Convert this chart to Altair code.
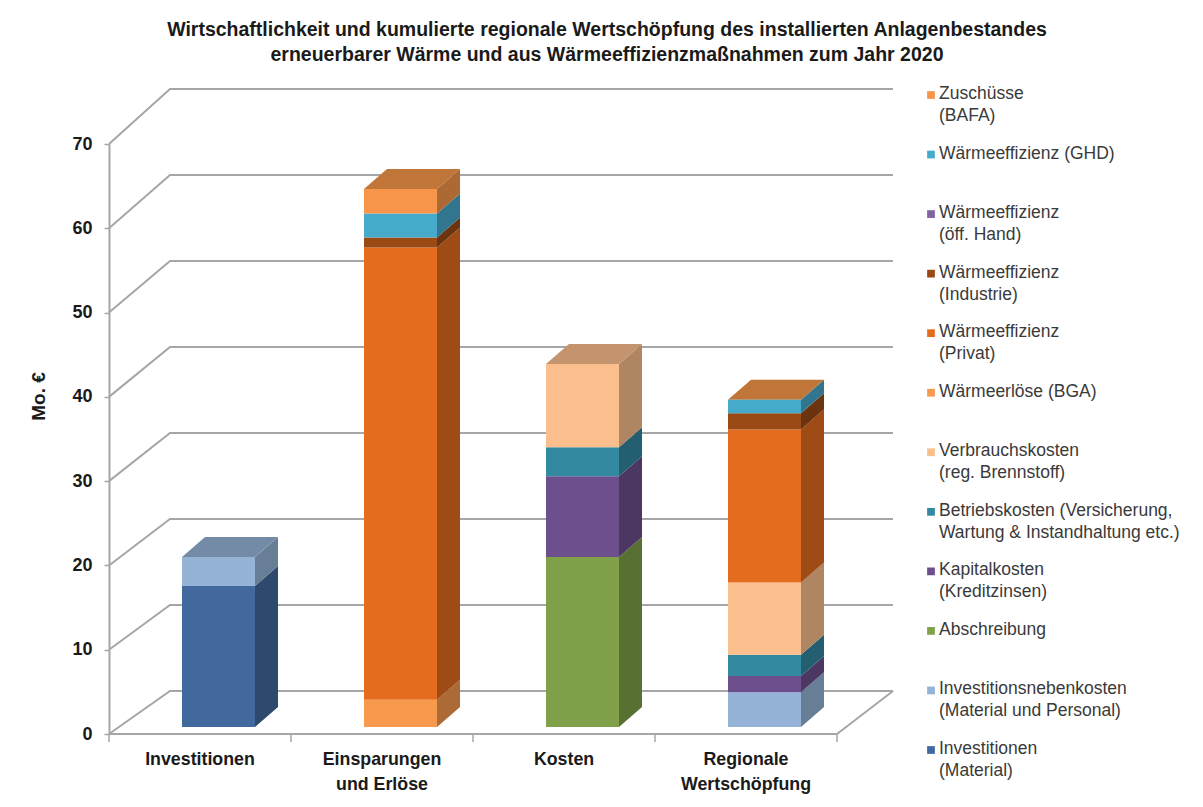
import altair as alt
import pandas as pd

# ---------------------------------------------------------------- data
categories = ["Investitionen", "Einsparungen\nund Erlöse", "Kosten", "Regionale\nWertschöpfung"]

# Mio. EUR per column; None = series not present in that column
investitionen_material = [16.6, None, None, None]
investitionsnebenkosten = [3.4, None, None, 4.1]
abschreibung = [None, None, 20.0, None]
kapitalkosten = [None, None, 9.5, 1.9]
betriebskosten = [None, None, 3.4, 2.5]
verbrauchskosten = [None, None, 9.8, 8.5]
waermeerloese_bga = [None, 3.2, None, None]
waermeeffizienz_privat = [None, 53.2, None, 18.0]
waermeeffizienz_industrie = [None, 1.2, None, 1.9]
waermeeffizienz_oeff_hand = [None, None, None, None]
waermeeffizienz_ghd = [None, 2.8, None, 1.6]
zuschuesse_bafa = [None, 2.9, None, 0.0]

# stacking order, bottom to top
series_names = [
    "Investitionen\n(Material)",
    "Investitionsnebenkosten\n(Material und Personal)",
    "Abschreibung",
    "Kapitalkosten\n(Kreditzinsen)",
    "Betriebskosten (Versicherung,\nWartung & Instandhaltung etc.)",
    "Verbrauchskosten\n(reg. Brennstoff)",
    "Wärmeerlöse (BGA)",
    "Wärmeeffizienz\n(Privat)",
    "Wärmeeffizienz\n(Industrie)",
    "Wärmeeffizienz\n(öff. Hand)",
    "Wärmeeffizienz (GHD)",
    "Zuschüsse\n(BAFA)",
]
series_values = [
    investitionen_material, investitionsnebenkosten, abschreibung, kapitalkosten,
    betriebskosten, verbrauchskosten, waermeerloese_bga, waermeeffizienz_privat,
    waermeeffizienz_industrie, waermeeffizienz_oeff_hand, waermeeffizienz_ghd,
    zuschuesse_bafa,
]
series_colors = [
    "#41699E", "#95B3D7", "#80A04A", "#6D4F8E", "#3389A0", "#FBBF8D",
    "#F79A4E", "#E46C1E", "#9A4A14", "#8064A2", "#46AACB", "#F7964A",
]

y_ticks = [0, 10, 20, 30, 40, 50, 60, 70]

# ---------------------------------------------------------------- geometry (style)
WIDTH, HEIGHT = 790, 590
PX_X = 182.0              # pixels per category slot
PX_Y = HEIGHT / 70.0      # pixels per Mio. EUR on the front axis
X_MAX = WIDTH / PX_X
BAR_LEFT, BAR_W = 73 / PX_X, 73 / PX_X
DEPTH_X, DEPTH_Y = 23 / PX_X, 20 / PX_Y
BASE = 7 / PX_Y           # columns stand a little behind the front edge
BAR_K = 8.5 / PX_Y        # perspective: columns sit deeper than the front axis
WALL_X, WALL_RIGHT = 61 / PX_X, 784 / PX_X
BACK_OFF, BACK_K = 43 / PX_Y, 8.6 / PX_Y   # back wall position / perspective


def shade(hex_color, f):
    h = hex_color.lstrip("#")
    r, g, b = (int(h[i:i + 2], 16) for i in (0, 2, 4))
    return "#%02X%02X%02X" % (int(r * f), int(g * f), int(b * f))


GRID = "#A6A6A6"
FONT = "Liberation Sans"

# ---------------------------------------------------------------- build faces
fronts, sides, tops = [], [], []
for k in range(len(categories)):
    x0 = k + BAR_LEFT
    x1 = x0 + BAR_W
    cum = 0.0
    top_series = None
    for s, vals in enumerate(series_values):
        v = vals[k]
        if v is None:
            continue
        y0, y1 = cum * BAR_K + BASE, (cum + v) * BAR_K + BASE
        cum += v
        top_series = s
        c = series_colors[s]
        fronts.append({"x": x0, "x2": x1, "y": y0, "y2": y1, "fill": c})
        face = f"s{k}_{s}"
        sides.append({"face": face, "x": x1, "y": y0, "y2": y1, "fill": shade(c, 0.70)})
        sides.append({"face": face, "x": x1 + DEPTH_X, "y": y0 + DEPTH_Y, "y2": y1 + DEPTH_Y,
                      "fill": shade(c, 0.70)})
    # lid of the column, coloured by the uppermost series
    t = cum * BAR_K + BASE
    c = shade(series_colors[top_series], 0.78)
    face = f"t{k}"
    for xx, lo, hi in [(x0, t, t), (x0 + DEPTH_X, t, t + DEPTH_Y),
                       (x1, t, t + DEPTH_Y), (x1 + DEPTH_X, t + DEPTH_Y, t + DEPTH_Y)]:
        tops.append({"face": face, "x": xx, "y": lo, "y2": hi, "fill": c})

fronts = pd.DataFrame(fronts)
sides = pd.DataFrame(sides)
tops = pd.DataFrame(tops)

# back wall gridlines and floor outline
grid_rows = []
for v in y_ticks:
    yb = BACK_OFF + v * BACK_K
    for xx, yy in [(0, v), (WALL_X, yb), (WALL_RIGHT, yb)]:
        grid_rows.append({"g": f"g{v}", "x": xx, "y": yy})
n = len(categories)
grid_rows.append({"g": "floor", "x": n, "y": 0})
grid_rows.append({"g": "floor", "x": WALL_RIGHT, "y": BACK_OFF})
grid = pd.DataFrame(grid_rows)

axis_line = pd.DataFrame({"x": [0], "x2": [n], "y": [0]})
tick_df = pd.DataFrame({"x": list(range(n + 1)), "y": [0] * (n + 1)})
cat_df = pd.DataFrame({"x": [k + 0.5 for k in range(n)], "label": categories})

legend_df = pd.DataFrame({
    "idx": list(range(len(series_names))),
    "name": series_names[::-1],
    "fill": series_colors[::-1],
})

# ---------------------------------------------------------------- chart
xs = alt.Scale(domain=[0, X_MAX], nice=False, zero=False)
ys = alt.Scale(domain=[0, 70], nice=False, zero=False)
y_axis = alt.Axis(
    values=y_ticks, grid=False,
    labelFont=FONT, labelFontSize=18, labelFontWeight="bold", labelColor="#1a1a1a",
    labelPadding=12, tickSize=5, tickColor=GRID, tickWidth=1.5,
    domainColor=GRID, domainWidth=2,
    title="Mo. €", titleFont=FONT, titleFontSize=19, titleFontWeight="bold",
    titleColor="#1a1a1a", titleAngle=270, titleX=-71, titleY=252,
    titleAlign="center", titleBaseline="middle",
)
X = alt.X("x:Q", scale=xs, axis=None)
Y = alt.Y("y:Q", scale=ys, axis=y_axis, stack=None)

grid_layer = alt.Chart(grid).mark_line(color=GRID, strokeWidth=2).encode(
    x=X, y=Y, detail="g:N")

side_layer = alt.Chart(sides).mark_area(orient="vertical").encode(
    x=X, y=Y, y2="y2:Q", color=alt.Color("fill:N", scale=None), detail="face:N")

top_layer = alt.Chart(tops).mark_area(orient="vertical").encode(
    x=X, y=Y, y2="y2:Q", color=alt.Color("fill:N", scale=None), detail="face:N")

front_layer = alt.Chart(fronts).mark_rect().encode(
    x=X, x2="x2:Q", y=Y, y2="y2:Q", color=alt.Color("fill:N", scale=None))

axis_layer = alt.Chart(axis_line).mark_rule(color=GRID, strokeWidth=2).encode(
    x=X, x2="x2:Q", y=Y)

tick_layer = alt.Chart(tick_df).mark_rule(color=GRID, strokeWidth=1.5).encode(
    x=X, y=Y, y2=alt.value(HEIGHT + 8))

label_layer = alt.Chart(cat_df).mark_text(
    font=FONT, fontSize=17.8, fontWeight="bold", color="#1a1a1a",
    baseline="top", lineBreak="\n", lineHeight=25,
).encode(x=X, y=alt.value(HEIGHT + 17), text="label:N")

main = alt.layer(grid_layer, side_layer, top_layer, front_layer,
                 axis_layer, tick_layer, label_layer)

ly = alt.Y("idx:Q", scale=alt.Scale(domain=[0, len(series_names) - 1], range=[-49, 606]),
           axis=None)
legend_sym = alt.Chart(legend_df).mark_square(size=60, opacity=1).encode(
    x=alt.value(822), y=ly, color=alt.Color("fill:N", scale=None))
legend_txt = alt.Chart(legend_df).mark_text(
    font=FONT, fontSize=17.5, color="#3a3a3a", align="left", baseline="top",
    dy=-10, lineBreak="\n", lineHeight=22,
).encode(x=alt.value(830), y=ly, text="name:N")

chart = alt.layer(main, legend_sym, legend_txt).resolve_scale(y="independent").properties(
    width=WIDTH, height=HEIGHT,
    autosize=alt.AutoSizeParams(type="none"),
    padding={"left": 109, "top": 144, "right": 1203 - 109 - WIDTH, "bottom": 807 - 144 - HEIGHT},
    background="white",
    title=alt.TitleParams(
        text=["Wirtschaftlichkeit und kumulierte regionale Wertschöpfung des installierten Anlagenbestandes",
              "erneuerbarer Wärme und aus Wärmeeffizienzmaßnahmen zum Jahr 2020"],
        font=FONT, fontSize=19.5, fontWeight="bold", color="#1a1a1a",
        anchor="middle", frame="group", dx=103, offset=20, lineHeight=25,
    ),
).configure_view(stroke=None)

chart.save("out.html", embed_options={"renderer": "svg", "actions": False})
